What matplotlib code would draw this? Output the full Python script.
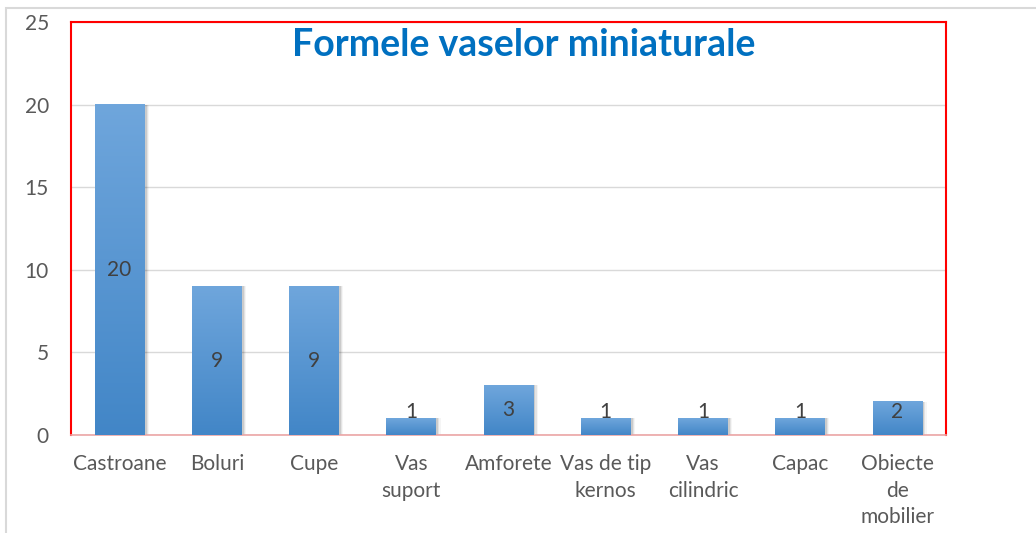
import matplotlib
matplotlib.use("Agg")
import matplotlib.pyplot as plt
import numpy as np
from matplotlib.colors import LinearSegmentedColormap
from matplotlib.patches import Rectangle

categories = ["Castroane", "Boluri", "Cupe", "Vas\nsuport", "Amforete",
              "Vas de tip\nkernos", "Vas\ncilindric", "Capac", "Obiecte\nde\nmobilier"]
values = [20, 9, 9, 1, 3, 1, 1, 1, 2]
yticks = [0, 5, 10, 15, 20, 25]
title = "Formele vaselor miniaturale"

plt.rcParams['font.family'] = ['Lato', 'DejaVu Sans']

fig = plt.figure(figsize=(10.36, 5.33), dpi=100)
fig.patches.append(Rectangle((6/1036, -0.1), 1.2, (533-8)/533 + 0.1, transform=fig.transFigure,
                             fill=False, edgecolor='#d9d9d9', linewidth=1.5))
ax = fig.add_axes([71/1036, 98/533, 875/1036, 413/533])

x = np.arange(len(categories))
width = 0.51
bars = ax.bar(x, values, width=width, color='none', zorder=3)

cmap = LinearSegmentedColormap.from_list('g', ['#4286c7', '#6fa6dc'])
grad = np.linspace(0, 1, 256).reshape(-1, 1)
for b in bars:
    x0, w, h = b.get_x(), b.get_width(), b.get_height()
    for i, a in enumerate([0.10, 0.07, 0.04]):
        d = 0.012 * (i + 1)
        ax.add_patch(Rectangle((x0 + 0.01, -0.05), w + d, h + 0.05, facecolor='black',
                               alpha=a, edgecolor='none', zorder=2))
    ax.imshow(grad, extent=(x0, x0 + w, 0, h), origin='lower', cmap=cmap,
              aspect='auto', zorder=3)

for xi, v in zip(x, values):
    ax.text(xi, max(v / 2, 1.4), str(v), ha='center', va='center',
            fontsize=15, color='#404040', zorder=4)

ax.set_xlim(-0.5, len(categories) - 0.5)
ax.set_ylim(0, 25)
ax.set_yticks(yticks)
ax.set_yticklabels([str(t) for t in yticks])
ax.set_xticks(x)
ax.set_xticklabels(categories, linespacing=1.38)
ax.tick_params(axis='y', length=0, pad=16, labelsize=15, labelcolor='#595959')
ax.tick_params(axis='x', length=0, pad=14, labelsize=15, labelcolor='#595959')
ax.grid(axis='y', color='#d9d9d9', linewidth=1, zorder=0)
ax.set_axisbelow(True)
for s in ['left', 'top', 'right']:
    ax.spines[s].set_color('#ff0000')
    ax.spines[s].set_linewidth(1.5)
ax.spines['bottom'].set_color('#eba5a5')
ax.spines['bottom'].set_linewidth(1.2)

ax.text(0.517, 0.944, title, transform=ax.transAxes, ha='center', va='center',
        fontsize=27, fontweight='bold', color='#0070c0')

fig.savefig('out.png', dpi=100)
